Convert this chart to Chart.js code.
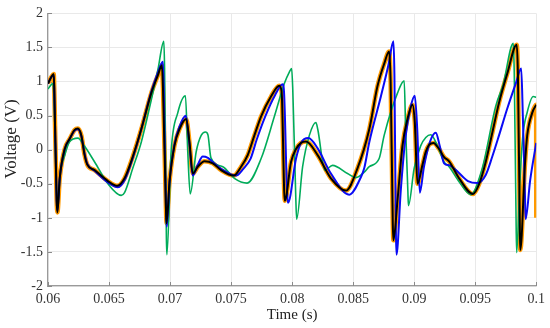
<!DOCTYPE html>
<html>
<head>
<meta charset="utf-8">
<script src="https://cdn.jsdelivr.net/npm/chart.js@4.4.1/dist/chart.umd.min.js"></script>
<style>
html,body{margin:0;padding:0;background:#fff;}
#wrap{width:550px;height:328px;}
</style>
</head>
<body>
<div id="wrap"><canvas id="c" width="550" height="328"></canvas></div>
<script>
// ---- tick labels ----
const xTickValues = [0.06, 0.065, 0.07, 0.075, 0.08, 0.085, 0.09, 0.095, 0.1];
const xTickLabels = ['0.06', '0.065', '0.07', '0.075', '0.08', '0.085', '0.09', '0.095', '0.1'];
const yTickValues = [-2, -1.5, -1, -0.5, 0, 0.5, 1, 1.5, 2];
const yTickLabels = ['-2', '-1.5', '-1', '-0.5', '0', '0.5', '1', '1.5', '2'];
const xTitle = 'Time (s)';
const yTitle = 'Voltage (V)';

// ---- black series ----
const tBlack = [0.0600,0.06025,0.06047,0.06052,0.06071,0.06077,0.06096,0.06137,0.06178,0.06218,0.06245,0.06273,0.06300,0.06322,0.06382,0.06491,0.06568,0.06627,0.06695,0.06764,0.06846,0.06900,0.06933,0.06942,0.06967,0.06971,0.06996,0.07036,0.07077,0.07132,0.07159,0.07186,0.07227,0.07282,0.07350,0.07418,0.07522,0.07582,0.07636,0.07691,0.07746,0.07827,0.07895,0.07914,0.07935,0.07940,0.07991,0.08032,0.08073,0.08114,0.08209,0.08318,0.08441,0.08536,0.08632,0.08699,0.08754,0.08795,0.08807,0.08825,0.08830,0.08863,0.08904,0.08945,0.08986,0.09005,0.09027,0.09068,0.09095,0.09122,0.09158,0.09204,0.09245,0.09286,0.09368,0.09482,0.09531,0.09586,0.09640,0.09695,0.09763,0.09840,0.09850,0.09866,0.09869,0.09908,0.09926,0.09967,0.1000];
const vBlack = [0.97,1.06,1.11,0.85,-0.75,-0.92,-0.42,0.01,0.16,0.29,0.31,0.21,-0.08,-0.22,-0.30,-0.46,-0.53,-0.42,-0.10,0.30,0.83,1.09,1.24,0.90,-0.90,-1.08,-0.46,0.06,0.30,0.45,0.11,-0.35,-0.25,-0.17,-0.20,-0.30,-0.38,-0.25,-0.08,0.21,0.49,0.78,0.94,0.85,-0.60,-0.75,-0.18,0.01,0.10,0.12,-0.08,-0.42,-0.60,-0.27,0.30,0.93,1.26,1.44,1.00,-1.10,-1.33,-0.75,0.06,0.45,0.66,0.40,-0.50,-0.22,-0.03,0.07,0.10,0.01,-0.11,-0.17,-0.42,-0.65,-0.51,-0.18,0.25,0.69,1.12,1.54,1.10,-1.20,-1.47,-0.20,0.21,0.54,0.66];

// ---- orange series ----
const tOrange = [0.0600,0.06025,0.06047,0.06052,0.06071,0.06077,0.06096,0.06137,0.06178,0.06218,0.06245,0.06273,0.06300,0.06322,0.06382,0.06491,0.06568,0.06627,0.06695,0.06764,0.06846,0.06900,0.06933,0.06942,0.06967,0.06971,0.06996,0.07036,0.07077,0.07132,0.07159,0.07186,0.07227,0.07282,0.07350,0.07418,0.07522,0.07582,0.07636,0.07691,0.07746,0.07827,0.07895,0.07914,0.07935,0.07940,0.07991,0.08032,0.08073,0.08114,0.08209,0.08318,0.08441,0.08536,0.08632,0.08699,0.08754,0.08795,0.08807,0.08825,0.08830,0.08863,0.08904,0.08945,0.08986,0.09005,0.09027,0.09068,0.09095,0.09122,0.09158,0.09204,0.09245,0.09286,0.09368,0.09482,0.09531,0.09586,0.09640,0.09695,0.09763,0.09840,0.09850,0.09866,0.09869,0.09908,0.09926,0.09967,0.09999,0.1000];
const vOrange = [0.97,1.06,1.11,0.85,-0.75,-0.92,-0.42,0.01,0.16,0.29,0.31,0.21,-0.08,-0.22,-0.30,-0.46,-0.53,-0.42,-0.10,0.30,0.83,1.09,1.24,0.90,-0.90,-1.08,-0.46,0.06,0.30,0.45,0.11,-0.35,-0.25,-0.17,-0.20,-0.30,-0.38,-0.25,-0.08,0.21,0.49,0.78,0.94,0.85,-0.60,-0.75,-0.18,0.01,0.10,0.12,-0.08,-0.42,-0.60,-0.27,0.30,0.93,1.26,1.44,1.00,-1.10,-1.33,-0.75,0.06,0.45,0.66,0.40,-0.50,-0.22,-0.03,0.07,0.10,0.01,-0.11,-0.17,-0.42,-0.65,-0.51,-0.18,0.25,0.69,1.12,1.54,1.10,-1.20,-1.47,-0.20,0.21,0.54,0.66,-1.00];

// ---- blue series ----
const tBlue = [0.0600,0.06025,0.06047,0.06052,0.06071,0.06077,0.06096,0.06137,0.06178,0.06218,0.06245,0.06273,0.06300,0.06322,0.06382,0.06491,0.06573,0.06627,0.06695,0.06764,0.06846,0.06900,0.06941,0.06948,0.06967,0.06973,0.06996,0.07036,0.07077,0.07128,0.07155,0.07186,0.07227,0.07268,0.07310,0.07350,0.07418,0.07540,0.07600,0.07660,0.07710,0.07780,0.07860,0.07923,0.07935,0.07958,0.07966,0.08032,0.08073,0.08133,0.08209,0.08318,0.08468,0.08564,0.08591,0.08632,0.08727,0.08790,0.08830,0.08838,0.08850,0.08855,0.08890,0.08930,0.08970,0.09005,0.09025,0.09046,0.09080,0.09130,0.09177,0.09210,0.09245,0.09290,0.09330,0.09400,0.09440,0.09517,0.09586,0.09640,0.09695,0.09760,0.09832,0.09877,0.09890,0.09908,0.09913,0.09950,0.1000];
const vBlue = [0.97,1.06,1.10,0.85,-0.75,-0.90,-0.42,0.01,0.16,0.28,0.30,0.20,-0.06,-0.21,-0.31,-0.48,-0.55,-0.45,-0.12,0.30,0.85,1.13,1.29,0.90,-0.90,-1.13,-0.46,0.08,0.34,0.50,0.15,-0.38,-0.22,-0.10,-0.12,-0.18,-0.28,-0.38,-0.28,-0.13,0.15,0.49,0.80,0.96,0.80,-0.60,-0.78,-0.13,0.10,0.17,0.02,-0.35,-0.66,-0.40,-0.27,0.11,0.78,1.25,1.59,1.10,-1.20,-1.54,-0.60,0.20,0.62,0.79,0.30,-0.63,-0.25,0.12,0.25,0.05,-0.20,-0.23,-0.28,-0.40,-0.46,-0.49,-0.37,-0.10,0.21,0.59,0.97,1.19,0.50,-0.70,-1.02,-0.45,0.10];

// ---- green series ----
const tGreen = [0.0600,0.06020,0.06038,0.06048,0.06070,0.06077,0.06100,0.06137,0.06178,0.06245,0.06300,0.06382,0.06491,0.06600,0.06627,0.06695,0.06764,0.06846,0.06900,0.06949,0.06955,0.06970,0.06974,0.07009,0.07063,0.07126,0.07145,0.07165,0.07214,0.07255,0.07290,0.07310,0.07335,0.07432,0.07527,0.07631,0.07746,0.07855,0.07936,0.07977,0.07996,0.08005,0.08030,0.08037,0.08086,0.08141,0.08195,0.08210,0.08269,0.08331,0.08454,0.08523,0.08591,0.08632,0.08713,0.08754,0.08863,0.08918,0.08930,0.08948,0.08953,0.09000,0.09054,0.09095,0.09136,0.09190,0.09245,0.09286,0.09368,0.09463,0.09558,0.09668,0.09728,0.09812,0.09820,0.09836,0.09840,0.09865,0.09890,0.09926,0.09975,0.1000];
const vGreen = [0.89,0.94,0.97,0.80,-0.60,-0.85,-0.35,-0.08,0.12,0.17,0.05,-0.18,-0.50,-0.67,-0.63,-0.27,0.11,0.73,1.17,1.59,1.20,-1.30,-1.54,-0.03,0.54,0.79,-0.03,-0.65,-0.03,0.21,0.26,0.22,-0.12,-0.25,-0.42,-0.49,-0.13,0.49,0.97,1.14,1.19,0.90,-0.70,-1.02,-0.25,0.21,0.40,0.30,-0.30,-0.23,-0.35,-0.41,-0.33,-0.25,-0.13,0.21,0.83,1.01,0.30,-0.60,-0.82,-0.27,0.06,0.18,0.22,0.06,-0.18,-0.25,-0.47,-0.66,-0.27,0.64,0.95,1.56,1.10,-1.20,-1.51,-0.50,0.20,0.55,0.78,0.77];

function pts(t, v) { return t.map((x, i) => ({x: x, y: v[i]})); }

const serif = "'Liberation Serif', 'DejaVu Serif', serif";

const insideTicks = {
  id: 'insideTicks',
  beforeDatasetsDraw(chart) {
    const ctx = chart.ctx;
    const xs = chart.scales.x, ys = chart.scales.y;
    const a = chart.chartArea;
    ctx.save();
    ctx.strokeStyle = '#8a8a8a';
    ctx.lineWidth = 1;
    ctx.beginPath();
    xTickValues.forEach(v => {
      const px = Math.round(xs.getPixelForValue(v)) + 0.5;
      ctx.moveTo(px, a.bottom);
      ctx.lineTo(px, a.bottom - 4);
    });
    yTickValues.forEach(v => {
      const py = Math.round(ys.getPixelForValue(v)) + 0.5;
      ctx.moveTo(a.left, py);
      ctx.lineTo(a.left + 4, py);
    });
    ctx.stroke();
    ctx.restore();
  },
  afterDraw(chart) {
    const ctx = chart.ctx;
    ctx.save();
    ctx.fillStyle = '#222222';
    ctx.font = "17px " + serif;
    ctx.textAlign = 'center';
    ctx.textBaseline = 'middle';
    ctx.translate(12, 139);
    ctx.rotate(-Math.PI / 2);
    ctx.fillText(yTitle, 0, 0);
    ctx.restore();
  }
};

const line = (data, color, width, order) => ({
  data: data, borderColor: color, borderWidth: width, pointRadius: 0,
  fill: false, cubicInterpolationMode: 'monotone', order: order,
  borderJoinStyle: 'round', borderCapStyle: 'butt'
});

new Chart(document.getElementById('c'), {
  type: 'line',
  data: {
    datasets: [
      line(pts(tOrange, vOrange), '#FF9A00', 4.5, 4),
      line(pts(tGreen, vGreen), '#00AC5A', 1.6, 3),
      line(pts(tBlue, vBlue), '#0A0AF5', 2, 2),
      line(pts(tBlack, vBlack), '#000000', 2, 1)
    ]
  },
  options: {
    responsive: false,
    animation: false,
    devicePixelRatio: 1,
    layout: { padding: { top: 9, right: 13, left: 0, bottom: 0 } },
    plugins: { legend: { display: false }, tooltip: { enabled: false } },
    scales: {
      x: {
        type: 'linear', min: 0.06, max: 0.1,
        afterBuildTicks: s => { s.ticks = xTickValues.map(v => ({value: v})); },
        afterFit: s => { s.height = 42; },
        ticks: {
          callback: (v, i) => xTickLabels[i],
          font: { family: serif, size: 14 }, color: '#333333', padding: 5,
          maxRotation: 0, autoSkip: false
        },
        grid: { color: '#e9e9e9', lineWidth: 1, drawTicks: false },
        border: { display: true, color: '#9a9a9a', width: 1.2 },
        title: { display: true, text: xTitle, font: { family: serif, size: 15 }, color: '#222222', padding: { top: 0, bottom: 4 } }
      },
      y: {
        type: 'linear', min: -2, max: 2,
        afterBuildTicks: s => { s.ticks = yTickValues.map(v => ({value: v})); },
        afterFit: s => { s.width = 48; },
        ticks: {
          callback: (v, i) => yTickLabels[i],
          font: { family: serif, size: 14 }, color: '#333333', padding: 5,
          autoSkip: false
        },
        grid: { color: '#e9e9e9', lineWidth: 1, drawTicks: false },
        border: { display: true, color: '#9a9a9a', width: 1.2 },
        title: { display: false }
      }
    }
  },
  plugins: [insideTicks]
});
</script>
</body>
</html>
